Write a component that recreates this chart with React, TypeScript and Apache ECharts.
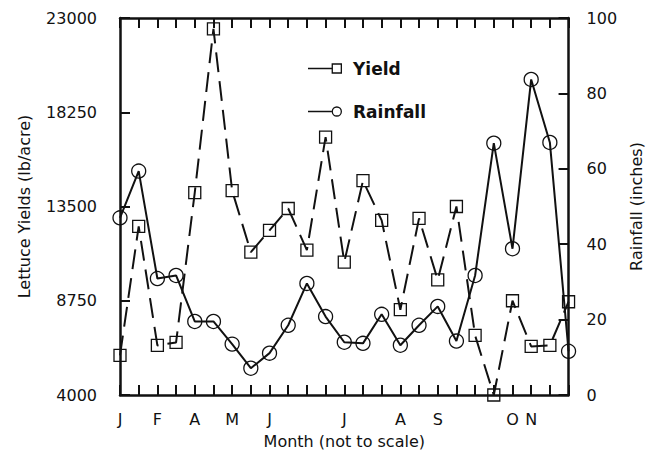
import React, { useEffect, useRef } from "react";
import * as echarts from "echarts";

// Month labels shown under the (not-to-scale) sampling points
const monthLabels = ["J", "", "F", "", "A", "", "M", "", "J", "", "", "", "J", "", "", "A", "", "S", "", "", "", "O", "N", "", ""];

// Lettuce yields (lb/acre)
const yieldValues = [6000, 12500, 6500, 6650, 14200, 22450, 14300, 11200, 12300, 13400, 11300, 17000, 10700, 14800, 12800, 8300, 12900, 9800, 13500, 7000, 4000, 8750, 6450, 6500, 8700];

// Rainfall (inches)
const rainValues = [47, 59.4, 30.9, 31.7, 19.5, 19.5, 13.5, 7.1, 11.1, 18.5, 29.6, 20.8, 14, 13.7, 21.4, 13.2, 18.5, 23.5, 14.3, 31.7, 66.8, 38.8, 83.7, 67, 11.6];

const FONT = "DejaVu Sans";
const INK = "#111";

const yieldIcon =
  "path://M0,5.3H25V6.7H0Z M25,0.5H36V11.5H25Z M26.4,1.9V10.1H34.6V1.9Z";
const rainIcon =
  "path://M0,5.3H25V6.7H0Z M36,6A5.5,5.5 0 1 1 25,6A5.5,5.5 0 1 1 36,6Z M34.6,6A4.1,4.1 0 1 0 26.4,6A4.1,4.1 0 1 0 34.6,6Z";

export default function App() {
  const ref = useRef<HTMLDivElement>(null);
  useEffect(() => {
    if (!ref.current) return;
    const chart = echarts.init(ref.current, null, { renderer: "svg" });
    const axisLine = { show: true, lineStyle: { color: INK, width: 2.5 } };
    const tick = { show: true, inside: true, length: 10, lineStyle: { color: INK, width: 2 } };
    const label = { color: INK, fontFamily: FONT, fontSize: 16 };
    const plain = (v: number) => String(v);
    chart.setOption({
      animation: false,
      backgroundColor: "#fff",
      grid: { left: 120, right: 72, top: 18, bottom: 57 },
      legend: {
        orient: "vertical",
        left: 303,
        top: 55,
        itemWidth: 34,
        itemHeight: 12,
        itemGap: 26,
        textStyle: { fontFamily: FONT, fontSize: 17, fontWeight: "bold", color: INK, padding: [0, 0, 0, 6] },
        data: [
          { name: "Yield", icon: yieldIcon, itemStyle: { color: INK, borderWidth: 0 } },
          { name: "Rainfall", icon: rainIcon, itemStyle: { color: INK, borderWidth: 0 } },
        ],
      },
      xAxis: [
        {
          type: "category",
          data: monthLabels,
          boundaryGap: false,
          position: "bottom",
          axisLine,
          axisTick: { ...tick, interval: 0 },
          axisLabel: { ...label, interval: 0, margin: 16 },
          name: "Month (not to scale)",
          nameLocation: "middle",
          nameGap: 38,
          nameTextStyle: { color: INK, fontFamily: FONT, fontSize: 16 },
        },
        {
          type: "category",
          data: monthLabels,
          boundaryGap: false,
          position: "top",
          axisLine,
          axisTick: { ...tick, interval: 0 },
          axisLabel: { show: false },
        },
      ],
      yAxis: [
        {
          type: "value",
          min: 4000,
          max: 23000,
          interval: 4750,
          position: "left",
          axisLine,
          axisTick: tick,
          splitLine: { show: false },
          axisLabel: { ...label, margin: 23, formatter: plain },
          name: "Lettuce Yields (lb/acre)",
          nameLocation: "middle",
          nameRotate: 90,
          nameGap: 88,
          nameTextStyle: { color: INK, fontFamily: FONT, fontSize: 16 },
        },
        {
          type: "value",
          min: 0,
          max: 100,
          interval: 20,
          position: "right",
          axisLine,
          axisTick: tick,
          splitLine: { show: false },
          axisLabel: { ...label, margin: 18, formatter: plain },
          name: "Rainfall (inches)",
          nameLocation: "middle",
          nameRotate: 90,
          nameGap: 55,
          nameTextStyle: { color: INK, fontFamily: FONT, fontSize: 16 },
        },
      ],
      series: [
        {
          name: "Yield",
          type: "line",
          xAxisIndex: 0,
          yAxisIndex: 0,
          data: yieldValues,
          symbol: "rect",
          symbolSize: 12,
          clip: false,
          itemStyle: { color: "transparent", borderColor: INK, borderWidth: 1.3 },
          lineStyle: { color: INK, width: 2, type: [20, 9] },
        },
        {
          name: "Rainfall",
          type: "line",
          xAxisIndex: 0,
          yAxisIndex: 1,
          data: rainValues,
          symbol: "circle",
          symbolSize: 14,
          clip: false,
          itemStyle: { color: "transparent", borderColor: INK, borderWidth: 1.3 },
          lineStyle: { color: INK, width: 2 },
        },
      ],
    });
    return () => chart.dispose();
  }, []);
  return (
    <div
      ref={ref}
      style={{ position: "fixed", left: 0, top: 0, width: 652, height: 454 }}
    />
  );
}
